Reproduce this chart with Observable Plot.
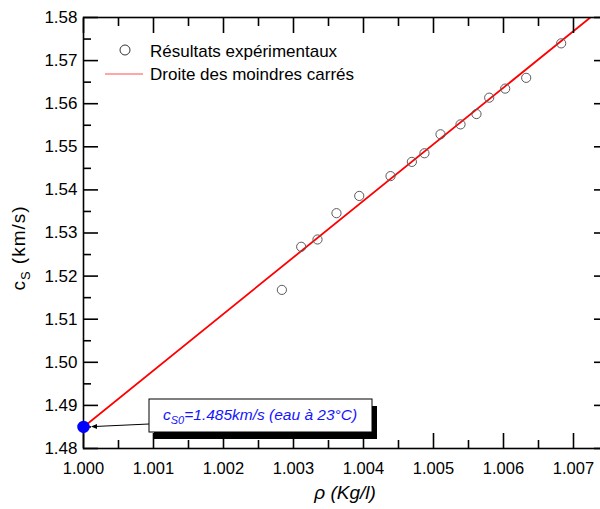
<!DOCTYPE html>
<html><head><meta charset="utf-8">
<script src="https://cdn.jsdelivr.net/npm/d3@7"></script>
<script src="https://cdn.jsdelivr.net/npm/@observablehq/plot@0.6"></script>
<style>html,body{margin:0;padding:0;overflow:hidden;background:#fff}</style>
</head><body><div id="chart"></div>
<script>
// Experimental data: density rho (Kg/l) and sound speed c_S (km/s)
const rho = [1.002834, 1.003110, 1.003343, 1.003614, 1.003939, 1.004386, 1.004691, 1.004871, 1.005100, 1.005386, 1.005614, 1.005796, 1.006024, 1.006324, 1.006824];
const cs  = [1.5168, 1.5268, 1.5285, 1.5346, 1.5386, 1.5432, 1.5465, 1.5485, 1.5529, 1.5552, 1.5576, 1.5614, 1.5635, 1.5660, 1.5740];
// Least-squares line endpoints
const fitRho = [1.000, 1.00724];
const fitCs  = [1.485, 1.580];
// Reference point (water at 23°C)
const refRho = [1.000];
const refCs  = [1.485];
// Ticks
const xTicks = [1.000, 1.001, 1.002, 1.003, 1.004, 1.005, 1.006, 1.007];
const xMinor = [1.0005, 1.0015, 1.0025, 1.0035, 1.0045, 1.0055, 1.0065, 1.0075];
const yTicks = [1.48, 1.49, 1.50, 1.51, 1.52, 1.53, 1.54, 1.55, 1.56, 1.57, 1.58];
const yMinor = [1.485, 1.495, 1.505, 1.515, 1.525, 1.535, 1.545, 1.555, 1.565, 1.575];
const legendLabels = ["Résultats expérimentaux", "Droite des moindres carrés"];
const annotation = {pre: "c", sub: "S0", post: "=1.485km/s (eau à 23°C)"};

const points = rho.map((x, i) => ({x, y: cs[i]}));
const fit = fitRho.map((x, i) => ({x, y: fitCs[i]}));
const ref = refRho.map((x, i) => ({x, y: refCs[i]}));

const font = "'Liberation Sans', Arial, sans-serif";
const sw = 1.6;
const blank = () => "";
const MAJ = 15, MIN = 8;

const plot = Plot.plot({
  width: 608, height: 509,
  marginLeft: 83, marginRight: 0, marginTop: 17, marginBottom: 61,
  x: {domain: [1.000, 1.0075]},
  y: {domain: [1.48, 1.58]},
  style: {fontFamily: font, fontSize: "16px", color: "#000", background: "#fff", overflow: "visible", maxWidth: "none"},
  marks: [
    Plot.line(fit, {x: "x", y: "y", stroke: "#ff0000", strokeWidth: 1.8, clip: true}),
    Plot.dot(points, {x: "x", y: "y", r: 4.6, stroke: "#5a5a5a", strokeWidth: 1, fill: "none"}),
    Plot.frame({stroke: "#000", strokeWidth: sw}),
    Plot.axisX(xTicks, {anchor: "bottom", tickSize: MAJ, insetBottom: MAJ, tickFormat: blank, label: null, strokeWidth: sw}),
    Plot.axisX(xMinor, {anchor: "bottom", tickSize: MIN, insetBottom: MIN, tickFormat: blank, label: null, strokeWidth: sw}),
    Plot.axisX(xTicks, {anchor: "top", tickSize: MAJ, insetTop: MAJ, tickFormat: blank, label: null, strokeWidth: sw}),
    Plot.axisX(xMinor, {anchor: "top", tickSize: MIN, insetTop: MIN, tickFormat: blank, label: null, strokeWidth: sw}),
    Plot.axisX(xTicks, {anchor: "bottom", tickSize: 0, tickPadding: 14, tickFormat: d3.format(".3f"), label: null, fontSize: 16.5}),
    Plot.axisY(yTicks, {anchor: "left", tickSize: MAJ, insetLeft: MAJ, tickFormat: blank, label: null, strokeWidth: sw}),
    Plot.axisY(yMinor, {anchor: "left", tickSize: MIN, insetLeft: MIN, tickFormat: blank, label: null, strokeWidth: sw}),
    Plot.axisY(yTicks, {anchor: "right", tickSize: MAJ, insetRight: MAJ, tickFormat: blank, label: null, strokeWidth: sw}),
    Plot.axisY(yMinor, {anchor: "right", tickSize: MIN, insetRight: MIN, tickFormat: blank, label: null, strokeWidth: sw}),
    Plot.axisY(yTicks, {anchor: "left", tickSize: 0, tickPadding: 6, tickFormat: d3.format(".2f"), label: null, fontSize: 17}),
    Plot.dot(ref, {x: "x", y: "y", r: 5.5, fill: "#0000ff", stroke: "#0000ff"})
  ]
});

document.getElementById("chart").appendChild(plot);
const svg = d3.select(plot);
const sx = plot.scale("x"), sy = plot.scale("y");

// Legend
const lg = svg.append("g").attr("font-family", font).attr("font-size", 17).attr("fill", "#000").attr("text-anchor", "start");
lg.append("circle").attr("cx", 125).attr("cy", 50).attr("r", 5).attr("fill", "none").attr("stroke", "#333").attr("stroke-width", 1);
lg.append("text").attr("x", 150).attr("y", 56.5).text(legendLabels[0]);
lg.append("line").attr("x1", 105).attr("x2", 143).attr("y1", 74).attr("y2", 74).attr("stroke", "#ff8a8a").attr("stroke-width", 1.5);
lg.append("text").attr("x", 150).attr("y", 80).text(legendLabels[1]);

// Y label
const yl = svg.append("text").attr("transform", "translate(25,248) rotate(-90)")
  .attr("text-anchor", "middle").attr("font-family", font).attr("font-size", 19).attr("letter-spacing", 1).attr("fill", "#000");
yl.append("tspan").text("c");
yl.append("tspan").attr("font-size", 13).attr("dy", 5).text("S");
yl.append("tspan").attr("dy", -5).text(" (km/s)");

// X label
svg.append("text").attr("x", 345).attr("y", 499).attr("text-anchor", "middle")
  .attr("font-family", font).attr("font-size", 19).attr("font-style", "italic").attr("fill", "#000")
  .text("ρ (Kg/l)");

// Annotation box
const bx = 149, by = 399, bw = 223, bh = 33;
const ag = svg.append("g");
ag.append("rect").attr("x", bx + 5).attr("y", by + 7).attr("width", bw).attr("height", bh).attr("fill", "#000");
ag.append("rect").attr("x", bx).attr("y", by).attr("width", bw).attr("height", bh).attr("fill", "#fff").attr("stroke", "#000").attr("stroke-width", 1);
const px = sx.apply(refRho[0]), py = sy.apply(refCs[0]);
const tipX = px + 8;
ag.append("line").attr("x1", bx).attr("y1", by + 25).attr("x2", tipX + 5).attr("y2", py).attr("stroke", "#000").attr("stroke-width", 1);
ag.append("path").attr("d", `M${tipX},${py} L${tipX + 6},${py - 2.5} L${tipX + 6},${py + 2.5} Z`).attr("fill", "#000");
const at = ag.append("text").attr("x", 163).attr("y", 420).attr("font-family", font).attr("font-size", 15.5)
  .attr("font-style", "italic").attr("fill", "#1414ff").attr("text-anchor", "start");
at.append("tspan").text(annotation.pre);
at.append("tspan").attr("font-size", 11).attr("dy", 4).text(annotation.sub);
at.append("tspan").attr("dy", -4).text(annotation.post);
</script>
</body></html>
